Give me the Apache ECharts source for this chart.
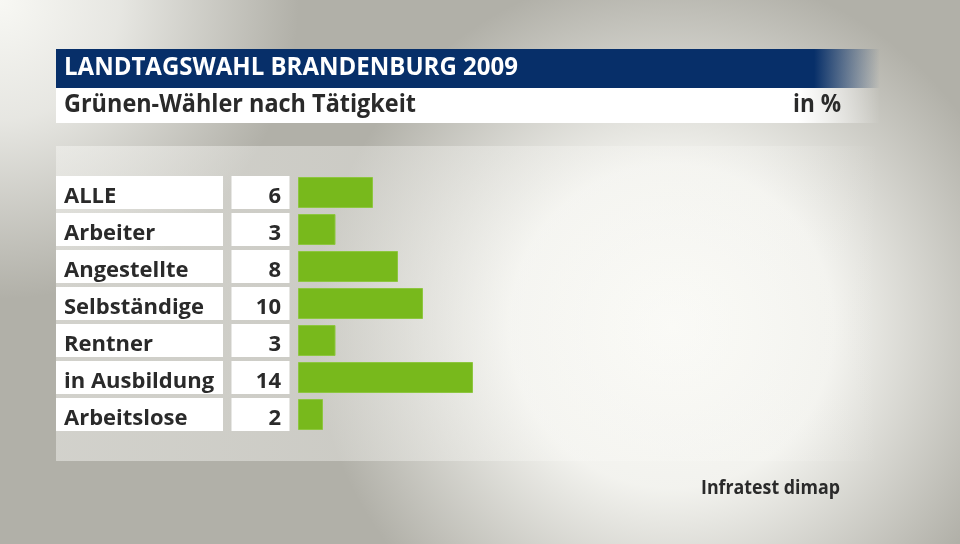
<!DOCTYPE html>
<html><head><meta charset="utf-8">
<script src="https://cdn.jsdelivr.net/npm/echarts@6/dist/echarts.min.js"></script>
<style>html,body{margin:0;padding:0;}#c{width:960px;height:544px;}</style>
</head><body><div id="c"></div>
<script>
const categories = ['ALLE','Arbeiter','Angestellte','Selbständige','Rentner','in Ausbildung','Arbeitslose'];
const values = [6,3,8,10,3,14,2];
const titleText = 'LANDTAGSWAHL BRANDENBURG 2009';
const subtitleText = 'Grünen-Wähler nach Tätigkeit';
const unitText = 'in %';
const sourceText = 'Infratest dimap';

const FONT = '"Open Sans"';
const ctx = document.createElement('canvas').getContext('2d');
function fitScale(text, font, target) {
  ctx.font = font;
  const w = ctx.measureText(text).width;
  return w > 0 ? target / w : 1;
}
const fTitle = 'bold 25px ' + FONT;
const fSub = 'bold 25px ' + FONT;
const fSrc = 'bold 20px ' + FONT;
const labelFont = {fontFamily:FONT, fontWeight:'bold', fontSize:22, color:'#2a2a2a'};

const chart = echarts.init(document.getElementById('c'));
chart.setOption({
  backgroundColor: '#b1b0a8',
  animation: false,
  graphic: [
    {type:'rect', z:-20, shape:{x:0,y:0,width:960,height:544},
     style:{fill:{type:'radial',x:0.7,y:0.6,r:0.66,colorStops:[{offset:0,color:'rgba(250,250,246,1)'},{offset:0.45,color:'rgba(246,246,242,0.95)'},{offset:1,color:'rgba(246,246,242,0)'}]}}},
    {type:'rect', z:-19, shape:{x:0,y:0,width:960,height:544},
     style:{fill:{type:'radial',x:0.0,y:0.0,r:0.55,colorStops:[{offset:0,color:'rgba(248,248,244,1)'},{offset:0.4,color:'rgba(240,240,236,0.85)'},{offset:1,color:'rgba(240,240,236,0)'}]}}},
    {type:'rect', z:-18, shape:{x:56,y:146,width:824,height:315},
     style:{fill:{type:'linear',x:0,y:0,x2:1,y2:0,colorStops:[{offset:0,color:'rgba(250,250,247,0.45)'},{offset:0.85,color:'rgba(250,250,247,0.25)'},{offset:1,color:'rgba(250,250,247,0)'}]}}},
    {type:'rect', z:-5, shape:{x:56,y:49,width:824,height:39},
     style:{fill:{type:'linear',x:0,y:0,x2:1,y2:0,colorStops:[{offset:0,color:'#072f69'},{offset:0.92,color:'#072f69'},{offset:1,color:'rgba(7,47,105,0)'}]}}},
    {type:'rect', z:-5, shape:{x:56,y:88,width:824,height:35},
     style:{fill:{type:'linear',x:0,y:0,x2:1,y2:0,colorStops:[{offset:0,color:'#ffffff'},{offset:0.9,color:'#ffffff'},{offset:1,color:'rgba(255,255,255,0)'}]}}},
    {type:'text', z:5, x:64, y:68, scaleX:fitScale(titleText, fTitle, 454), style:{text:titleText, fill:'#ffffff', font:fTitle, textVerticalAlign:'middle'}},
    {type:'text', z:5, x:64, y:105, scaleX:fitScale(subtitleText, fSub, 352), style:{text:subtitleText, fill:'#2a2a2a', font:fSub, textVerticalAlign:'middle'}},
    {type:'text', z:5, x:841, y:105, scaleX:fitScale(unitText, fSub, 48), style:{text:unitText, fill:'#2a2a2a', font:fSub, textAlign:'right', textVerticalAlign:'middle'}},
    {type:'text', z:5, x:840, y:488, scaleX:fitScale(sourceText, fSrc, 139), style:{text:sourceText, fill:'#2a2a2a', font:fSrc, textAlign:'right', textVerticalAlign:'middle'}}
  ],
  grid: {left:298, top:174, width:500, height:259},
  xAxis: {type:'value', min:0, max:40, show:false},
  yAxis: [
    {type:'category', data:categories, inverse:true, position:'left',
     axisLine:{show:false}, axisTick:{show:false}, splitLine:{show:false},
     axisLabel:{margin:242, align:'left', fontSize:22, color:'rgba(0,0,0,0)', formatter:() => ' ',
       backgroundColor:'#ffffff', width:167, height:33, lineHeight:33, padding:0, overflow:'none'}},
    {type:'category', data:categories, inverse:true, position:'left',
     axisLine:{show:false}, axisTick:{show:false}, splitLine:{show:false},
     axisLabel:{margin:8.5, align:'right', fontSize:22, color:'rgba(0,0,0,0)', formatter:() => ' ',
       backgroundColor:'#ffffff', width:58, height:33, lineHeight:33, padding:0, overflow:'none'}}
  ],
  series: [
    {type:'bar', data:values, barWidth:31, yAxisIndex:0, z:3,
     itemStyle:{color:'#78b91c', borderColor:'#8dc63f', borderWidth:1},
     label:Object.assign({show:true, position:'left', distance:17, offset:[0,4], formatter:'{c}'}, labelFont)},
    {type:'bar', data:values, barWidth:31, barGap:'-100%', yAxisIndex:0, silent:true, z:3,
     itemStyle:{color:'rgba(0,0,0,0)'},
     label:Object.assign({show:true, position:'left', align:'left', distance:234, offset:[0,4],
       formatter:p => categories[p.dataIndex]}, labelFont)}
  ]
});
</script>
</body></html>
